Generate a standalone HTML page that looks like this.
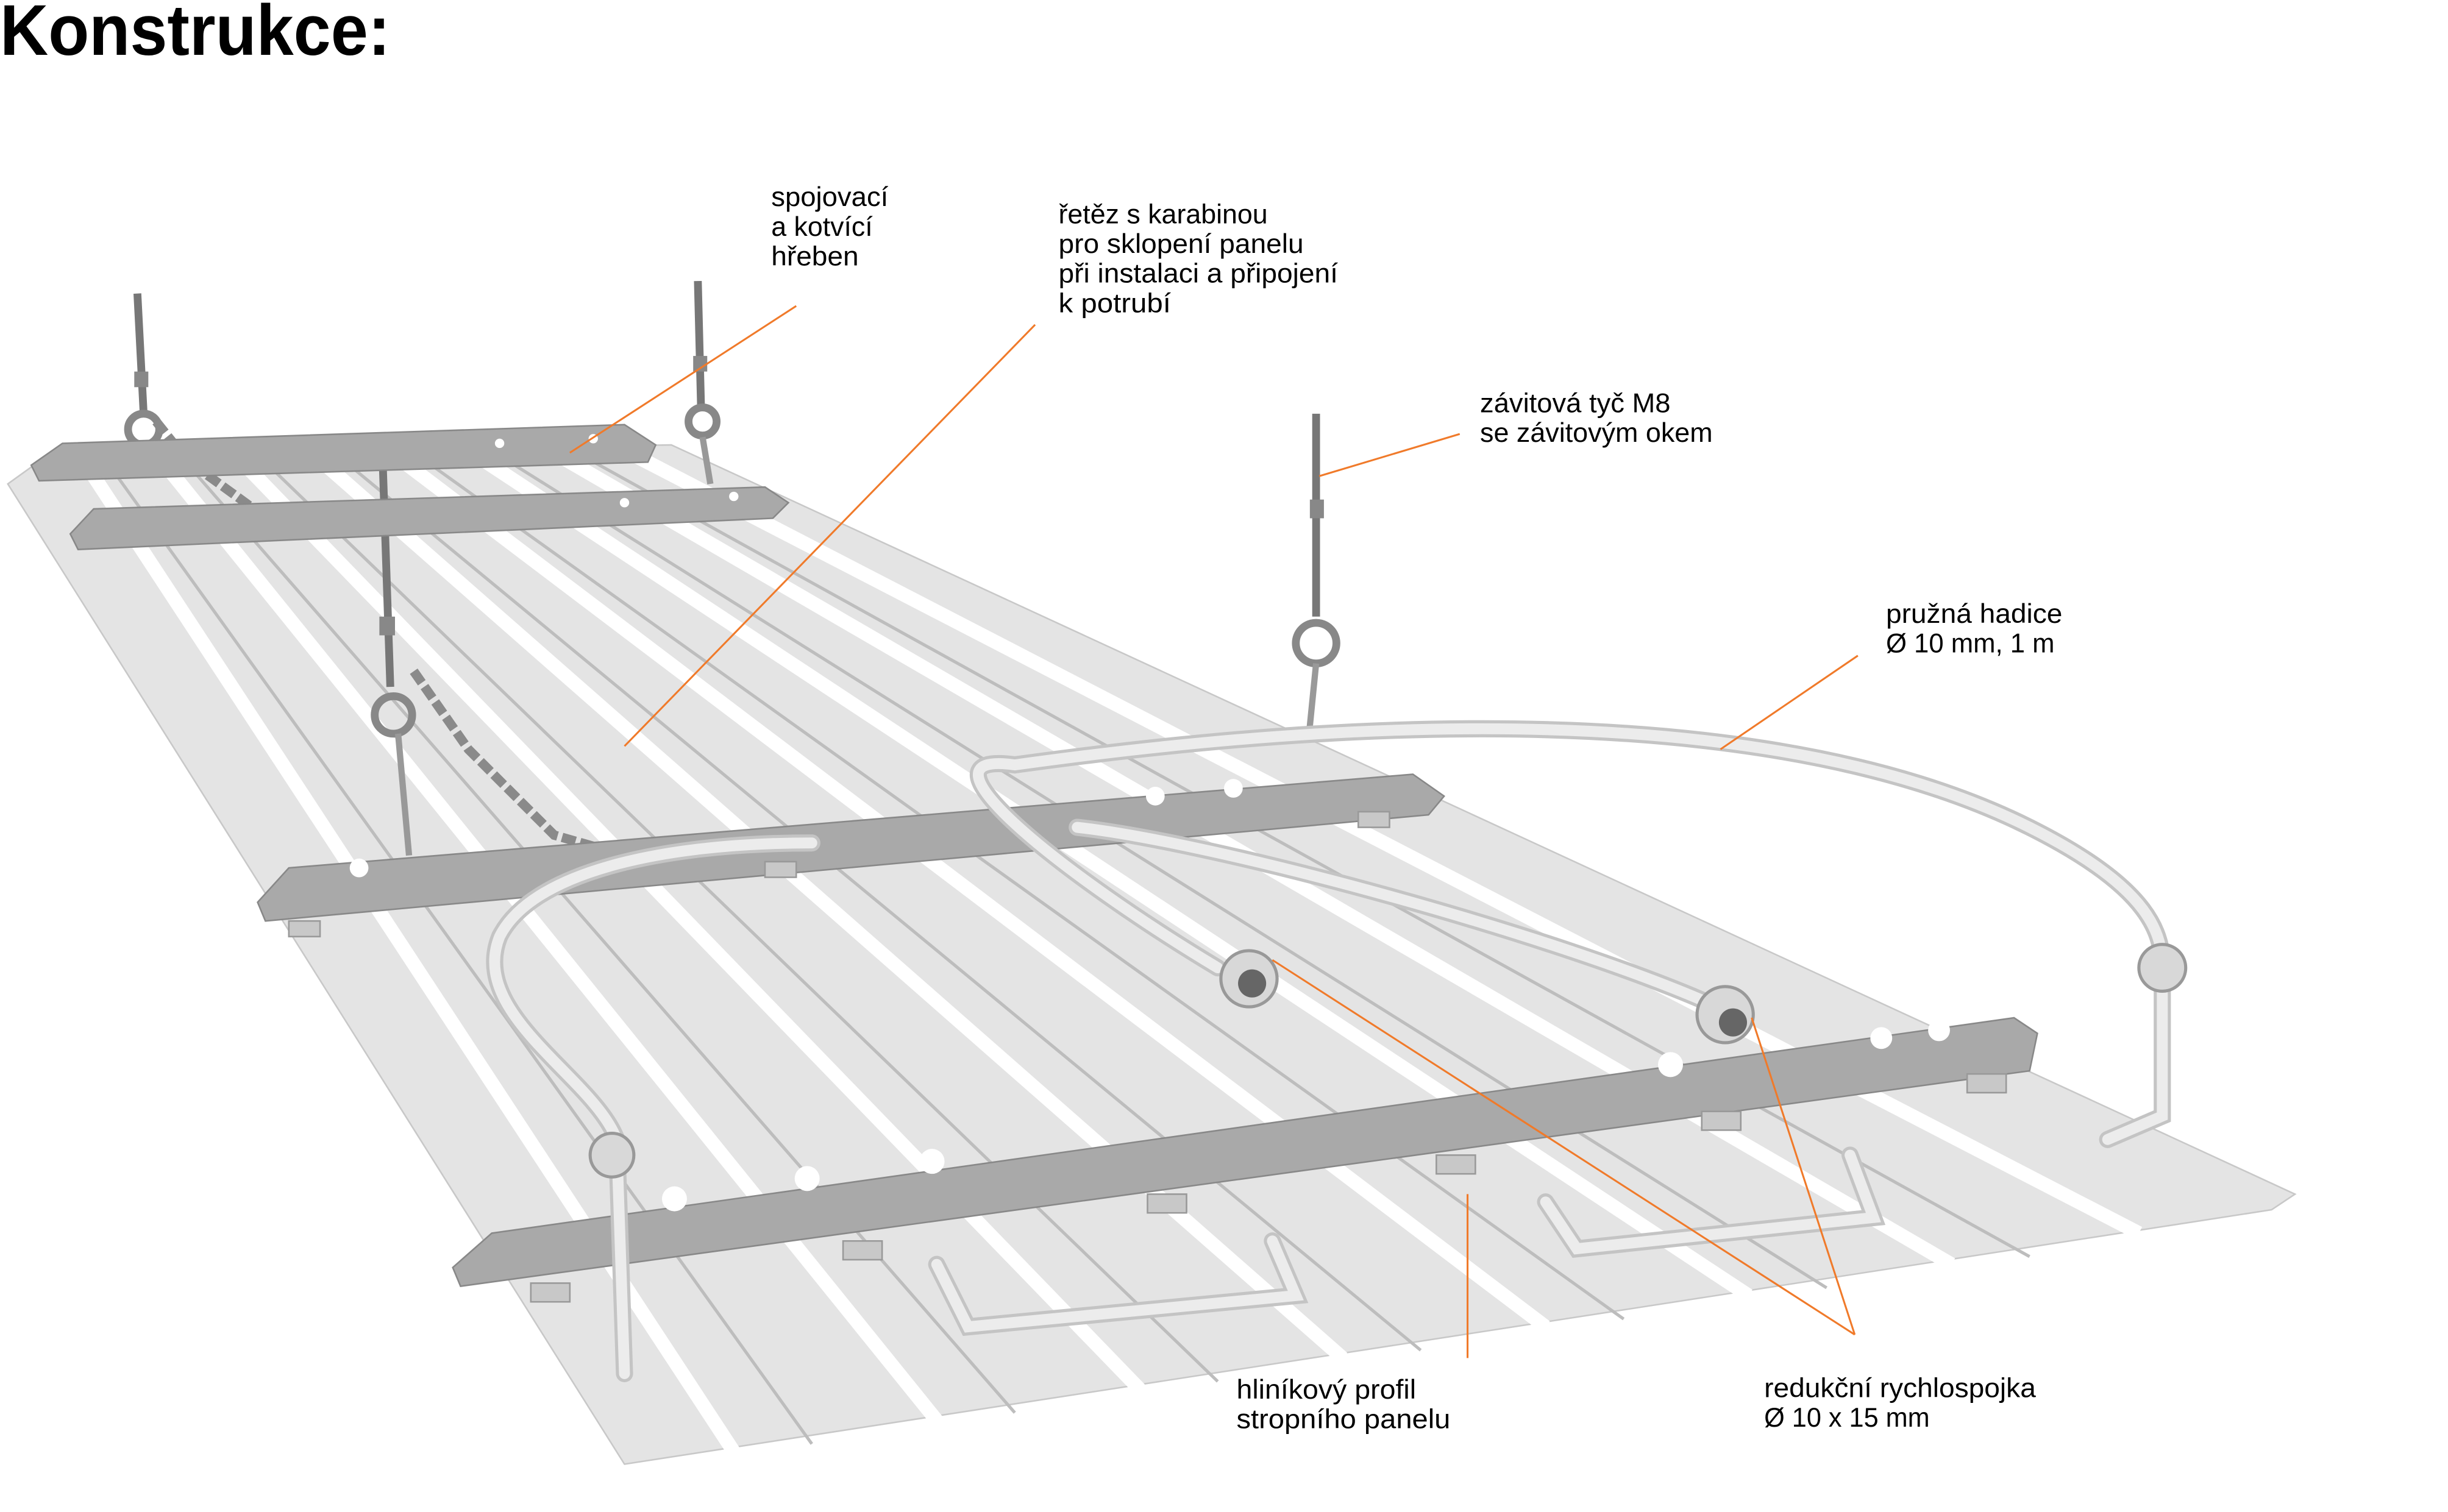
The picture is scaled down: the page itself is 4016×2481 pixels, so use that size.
<!DOCTYPE html>
<html><head><meta charset="utf-8"><style>
html,body{margin:0;padding:0;background:#fff;}
svg{display:block;}
text{font-family:"Liberation Sans",sans-serif;fill:#000;}
</style></head><body>
<svg width="4016" height="2481" viewBox="0 0 1568 968.6" xmlns="http://www.w3.org/2000/svg">
<rect width="1568" height="968.6" fill="#fff"/>
<text x="0" y="35" font-size="46" font-weight="bold" textLength="250" lengthAdjust="spacingAndGlyphs">Konstrukce:</text>

<!-- panel -->
<polygon points="5,310 30,292 430,285 1470,765 1455,775 400,938" fill="#e4e4e4" stroke="#c8c8c8" stroke-width="1"/>
<g stroke="#fff" stroke-width="9">
<line x1="60" y1="305" x2="470" y2="930"/>
<line x1="110" y1="303" x2="600" y2="910"/>
<line x1="160" y1="301" x2="730" y2="890"/>
<line x1="210" y1="299" x2="860" y2="870"/>
<line x1="260" y1="297" x2="990" y2="850"/>
<line x1="310" y1="295" x2="1120" y2="830"/>
<line x1="360" y1="293" x2="1250" y2="810"/>
<line x1="405" y1="291" x2="1370" y2="790"/>
</g>
<g stroke="#bdbdbd" stroke-width="2">
<line x1="75" y1="305" x2="520" y2="925"/>
<line x1="125" y1="303" x2="650" y2="905"/>
<line x1="175" y1="301" x2="780" y2="885"/>
<line x1="225" y1="299" x2="910" y2="865"/>
<line x1="275" y1="297" x2="1040" y2="845"/>
<line x1="325" y1="295" x2="1170" y2="825"/>
<line x1="375" y1="293" x2="1300" y2="805"/>
</g>

<!-- rods -->
<g stroke="#777" stroke-width="5">
<line x1="88" y1="188" x2="92" y2="265"/>
<line x1="447" y1="180" x2="449" y2="260"/>
<line x1="245" y1="292" x2="250" y2="440"/>
<line x1="843" y1="265" x2="843" y2="395"/>
</g>
<g fill="#888">
<rect x="86" y="238" width="9" height="10"/><rect x="444" y="228" width="9" height="10"/>
<rect x="243" y="395" width="10" height="12"/><rect x="839" y="320" width="9" height="12"/>
</g>
<g fill="none" stroke="#888" stroke-width="5">
<circle cx="92" cy="275" r="10"/><circle cx="450" cy="270" r="9"/>
<circle cx="252" cy="458" r="12"/><circle cx="843" cy="412" r="13"/>
</g>
<g stroke="#999" stroke-width="4"><line x1="450" y1="280" x2="455" y2="310"/><line x1="843" y1="425" x2="838" y2="475"/><line x1="255" y1="470" x2="262" y2="548"/></g>
<!-- chains -->
<g stroke="#8a8a8a" stroke-width="6" fill="none" stroke-dasharray="9 3">
<path d="M100,270 L120,295 L175,335"/><path d="M265,430 L300,480 L355,535 L390,545"/>
</g>

<!-- combs -->
<g fill="#a9a9a9" stroke="#888">
<polygon points="20,298 40,284 400,272 420,285 415,296 25,308"/>
<polygon points="45,342 60,326 490,312 505,322 495,332 50,352"/>
<polygon points="165,578 185,556 905,496 925,510 915,522 170,590"/>
<polygon points="290,812 315,790 1290,652 1305,662 1300,686 295,824"/>
</g>
<g fill="#c8c8c8" stroke="#999">
<rect x="340" y="822" width="25" height="12"/><rect x="540" y="795" width="25" height="12"/>
<rect x="735" y="765" width="25" height="12"/><rect x="920" y="740" width="25" height="12"/>
<rect x="1090" y="712" width="25" height="12"/><rect x="1260" y="688" width="25" height="12"/>
<rect x="185" y="590" width="20" height="10"/><rect x="490" y="552" width="20" height="10"/>
<rect x="870" y="520" width="20" height="10"/>
</g>
<g fill="#fff">
<circle cx="320" cy="284" r="3"/><circle cx="380" cy="281" r="3"/>
<circle cx="400" cy="322" r="3"/><circle cx="470" cy="318" r="3"/>
<circle cx="230" cy="556" r="6"/><circle cx="740" cy="510" r="6"/><circle cx="790" cy="505" r="6"/>
<circle cx="432" cy="768" r="8"/><circle cx="517" cy="755" r="8"/><circle cx="597" cy="744" r="8"/>
<circle cx="1070" cy="682" r="8"/><circle cx="1205" cy="665" r="7"/><circle cx="1242" cy="660" r="7"/>
</g>

<!-- hoses -->
<g fill="none" stroke="#c4c4c4" stroke-width="11" stroke-linecap="round">
<path d="M780,620 C680,560 580,480 650,490 C760,475 1100,430 1300,530 C1380,570 1385,600 1385,620"/>
<path d="M1385,620 L1385,715 L1350,730"/>
<path d="M395,730 C380,690 300,650 320,600 C340,560 420,540 520,540"/>
<path d="M395,730 L400,880"/>
<path d="M1100,645 C1000,600 780,540 690,530"/>
<path d="M600,810 L620,850 L830,830 L815,795"/>
<path d="M990,770 L1010,800 L1200,780 L1185,740"/>
</g>
<g fill="none" stroke="#ececec" stroke-width="7" stroke-linecap="round">
<path d="M780,620 C680,560 580,480 650,490 C760,475 1100,430 1300,530 C1380,570 1385,600 1385,620"/>
<path d="M1385,620 L1385,715 L1350,730"/>
<path d="M395,730 C380,690 300,650 320,600 C340,560 420,540 520,540"/>
<path d="M395,730 L400,880"/>
<path d="M1100,645 C1000,600 780,540 690,530"/>
<path d="M600,810 L620,850 L830,830 L815,795"/>
<path d="M990,770 L1010,800 L1200,780 L1185,740"/>
</g>
<g fill="#d8d8d8" stroke="#999" stroke-width="2">
<circle cx="800" cy="627" r="18"/><circle cx="1105" cy="650" r="18"/>
<circle cx="1385" cy="620" r="15"/><circle cx="392" cy="740" r="14"/>
</g>
<circle cx="802" cy="630" r="9" fill="#666"/><circle cx="1110" cy="655" r="9" fill="#666"/>

<!-- leader lines -->
<g stroke="#f07a2a" stroke-width="1.2" fill="none">
<line x1="510" y1="196" x2="365" y2="290"/>
<line x1="663" y1="208" x2="400" y2="478"/>
<line x1="935" y1="278" x2="845" y2="305"/>
<line x1="1190" y1="420" x2="1102" y2="480"/>
<line x1="940" y1="765" x2="940" y2="870"/>
<line x1="1188" y1="855" x2="815" y2="615"/>
<line x1="1188" y1="855" x2="1122" y2="652"/>
</g>

<!-- labels -->
<g font-size="17.5">
<text x="494" y="132" textLength="75" lengthAdjust="spacingAndGlyphs">spojovací</text>
<text x="494" y="151" textLength="65" lengthAdjust="spacingAndGlyphs">a kotvící</text>
<text x="494" y="170" textLength="56" lengthAdjust="spacingAndGlyphs">hřeben</text>
<text x="678" y="143" textLength="134" lengthAdjust="spacingAndGlyphs">řetěz s karabinou</text>
<text x="678" y="162" textLength="157" lengthAdjust="spacingAndGlyphs">pro sklopení panelu</text>
<text x="678" y="181" textLength="179" lengthAdjust="spacingAndGlyphs">při instalaci a připojení</text>
<text x="678" y="200" textLength="72" lengthAdjust="spacingAndGlyphs">k potrubí</text>
<text x="948" y="264" textLength="122" lengthAdjust="spacingAndGlyphs">závitová tyč M8</text>
<text x="948" y="283" textLength="149" lengthAdjust="spacingAndGlyphs">se závitovým okem</text>
<text x="1208" y="399" textLength="113" lengthAdjust="spacingAndGlyphs">pružná hadice</text>
<text x="1208" y="418" textLength="108" lengthAdjust="spacingAndGlyphs">Ø 10 mm, 1 m</text>
<text x="792" y="896" textLength="115" lengthAdjust="spacingAndGlyphs">hliníkový profil</text>
<text x="792" y="915" textLength="137" lengthAdjust="spacingAndGlyphs">stropního panelu</text>
<text x="1130" y="895" textLength="174" lengthAdjust="spacingAndGlyphs">redukční rychlospojka</text>
<text x="1130" y="914" textLength="106" lengthAdjust="spacingAndGlyphs">Ø 10 x 15 mm</text>
</g>
</svg>
</body></html>
